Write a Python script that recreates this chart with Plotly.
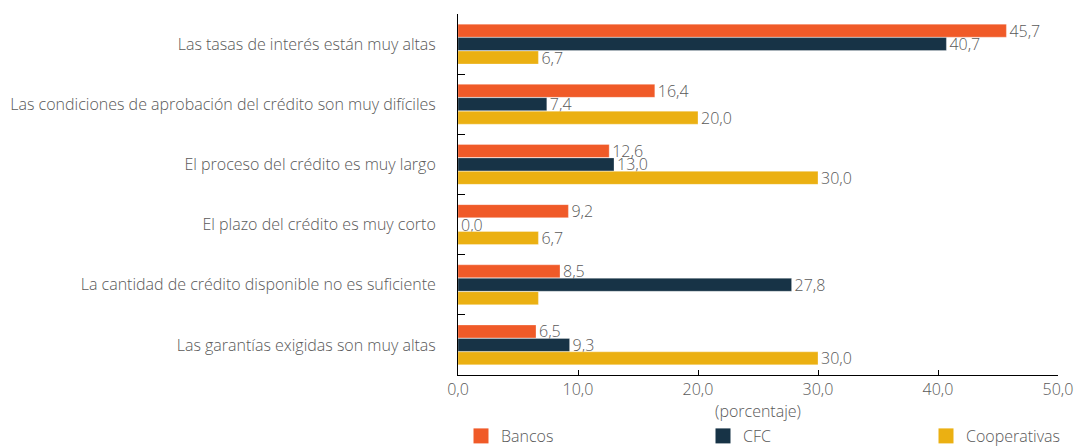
import plotly.graph_objects as go

categories = [
    "Las tasas de interés están muy altas",
    "Las condiciones de aprobación del crédito son muy difíciles",
    "El proceso del crédito es muy largo",
    "El plazo del crédito es muy corto",
    "La cantidad de crédito disponible no es suficiente",
    "Las garantías exigidas son muy altas",
]
bancos = [45.7, 16.4, 12.6, 9.2, 8.5, 6.5]
cfc = [40.7, 7.4, 13.0, 0.0, 27.8, 9.3]
cooperativas = [6.7, 20.0, 30.0, 6.7, 6.7, 30.0]
# value labels shown next to each bar (one Cooperativas bar carries none)
show_coop_label = [True, True, True, True, False, True]

tick_vals = [0, 10, 20, 30, 40, 50]
tick_text = ["0,0", "10,0", "20,0", "30,0", "40,0", "50,0"]

TEXT = "#595959"
FONT = "Open Sans"
SIZE = 16
W, H = 1088, 446


def fmt(v):
    return f"{v:.1f}".replace(".", ",")


def tfont():
    return dict(family=FONT, size=SIZE, color=TEXT, weight=300)


series = [
    ("Bancos", bancos, "#F05A28", [True] * len(bancos)),
    ("CFC", cfc, "#173346", [True] * len(cfc)),
    ("Cooperativas", cooperativas, "#EBB012", show_coop_label),
]
# left edge of each legend box, in pixels
legend_left_x = [461, 703, 926]

fig = go.Figure()
for name, vals, color, show in series:
    fig.add_trace(go.Bar(
        name=name,
        y=categories,
        x=vals,
        orientation="h",
        marker=dict(color=color, line=dict(color="rgba(255,255,255,0.6)", width=0.5)),
        text=[fmt(v) if s else "" for v, s in zip(vals, show)],
        textposition="outside",
        constraintext="none",
        cliponaxis=False,
        textfont=tfont(),
        showlegend=False,
    ))

# legend entries with larger square swatches, one legend box per series
legend_layout = {}
for i, ((name, vals, color, _), lx) in enumerate(zip(series, legend_left_x)):
    key = "legend" if i == 0 else f"legend{i + 1}"
    fig.add_trace(go.Scatter(
        x=[None], y=[None],
        mode="markers",
        name=name,
        marker=dict(symbol="square", size=15, color=color),
        showlegend=True,
        legend=key,
    ))
    legend_layout[key] = dict(
        xref="container", yref="container",
        x=lx / W, xanchor="left",
        y=(H - 436) / H, yanchor="middle",
        font=tfont(),
        bgcolor="rgba(0,0,0,0)",
        borderwidth=0,
    )

fig.update_layout(
    width=W,
    height=H,
    margin=dict(l=458, r=30, t=14, b=71, autoexpand=False),
    paper_bgcolor="white",
    plot_bgcolor="white",
    barmode="group",
    bargap=0.33,
    bargroupgap=0.03,
    font=tfont(),
    **legend_layout,
)

fig.update_xaxes(
    range=[0, 50],
    tickvals=tick_vals,
    ticktext=tick_text,
    showgrid=False,
    zeroline=False,
    showline=True,
    linecolor="#000000",
    linewidth=1,
    ticks="inside",
    ticklen=5,
    tickcolor="#000000",
    tickfont=tfont(),
    automargin=False,
    title=dict(text="(porcentaje)", standoff=6, font=tfont()),
)

fig.update_yaxes(
    autorange="reversed",
    showgrid=False,
    showline=True,
    linecolor="#000000",
    linewidth=1,
    ticks="inside",
    tickson="boundaries",
    ticklen=7,
    tickcolor="#000000",
    ticklabelstandoff=18,
    automargin=False,
    tickfont=tfont(),
)

fig.write_html("out.html")
